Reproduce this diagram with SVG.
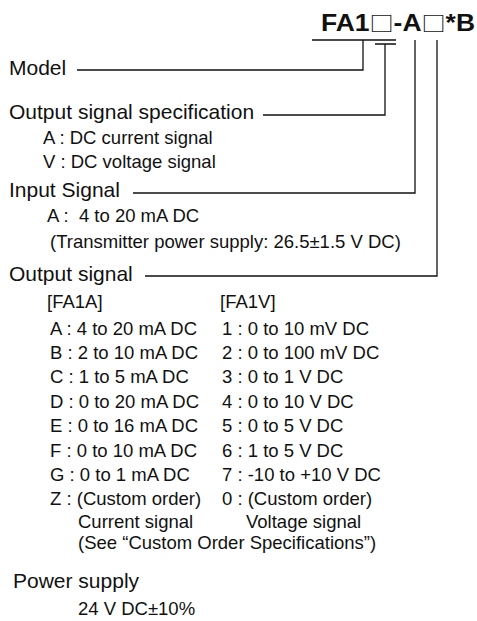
<svg xmlns="http://www.w3.org/2000/svg" width="477" height="621" viewBox="0 0 477 621">
<style>
text{font-family:"Liberation Sans",Arial,"DejaVu Sans",sans-serif;fill:#111}
.h{font-size:21px}
.s{font-size:18.5px}
.t{font-size:23px;font-weight:bold}
.sq{font-family:"Noto Sans CJK JP","Noto Sans CJK SC",sans-serif;font-weight:normal;font-size:21px}
.ln{fill:none;stroke:#111;stroke-width:1.3}
</style>
<rect width="477" height="621" fill="#fff"/>
<g id="title"><text class="t" x="321" y="31" textLength="154" lengthAdjust="spacingAndGlyphs">FA1<tspan class="sq">□</tspan>-A<tspan class="sq">□</tspan>*B</text></g>
<g id="connectors">
<path class="ln" d="M312 40H396M363 40V70H77"/>
<path class="ln" d="M375 44H396M385 44V115H263"/>
<path class="ln" d="M415 40V193H133"/>
<path class="ln" d="M437 40V276H145"/>
</g>
<g id="model"><text class="h" x="9" y="75">Model</text></g>
<g id="output-spec">
<text class="h" x="9" y="119">Output signal specification</text>
<text class="s" x="43" y="144">A : DC current signal</text>
<text class="s" x="43" y="168">V : DC voltage signal</text>
</g>
<g id="input-signal">
<text class="h" x="9" y="197">Input Signal</text>
<text class="s" x="47" y="222" xml:space="preserve">A :  4 to 20 mA DC</text>
<text class="s" x="50" y="248">(Transmitter power supply: 26.5±1.5 V DC)</text>
</g>
<g id="output-signal">
<text class="h" x="9" y="281">Output signal</text>
<text class="s" x="47" y="308">[FA1A]</text>
<text class="s" x="220" y="308">[FA1V]</text>
<text class="s" x="50" y="335">A : 4 to 20 mA DC</text>
<text class="s" x="50" y="359">B : 2 to 10 mA DC</text>
<text class="s" x="50" y="383">C : 1 to 5 mA DC</text>
<text class="s" x="50" y="408">D : 0 to 20 mA DC</text>
<text class="s" x="50" y="432">E : 0 to 16 mA DC</text>
<text class="s" x="50" y="457">F : 0 to 10 mA DC</text>
<text class="s" x="50" y="481">G : 0 to 1 mA DC</text>
<text class="s" x="50" y="505">Z : (Custom order)</text>
<text class="s" x="222" y="335">1 : 0 to 10 mV DC</text>
<text class="s" x="222" y="359">2 : 0 to 100 mV DC</text>
<text class="s" x="222" y="383">3 : 0 to 1 V DC</text>
<text class="s" x="222" y="408">4 : 0 to 10 V DC</text>
<text class="s" x="222" y="432">5 : 0 to 5 V DC</text>
<text class="s" x="222" y="457">6 : 1 to 5 V DC</text>
<text class="s" x="222" y="481">7 : -10 to +10 V DC</text>
<text class="s" x="222" y="505">0 : (Custom order)</text>
<text class="s" x="78" y="528">Current signal</text>
<text class="s" x="246" y="528">Voltage signal</text>
<text class="s" x="78" y="549">(See “Custom Order Specifications”)</text>
</g>
<g id="power-supply">
<text class="h" x="13" y="588">Power supply</text>
<text class="s" x="78" y="615">24 V DC±10%</text>
</g>
</svg>
